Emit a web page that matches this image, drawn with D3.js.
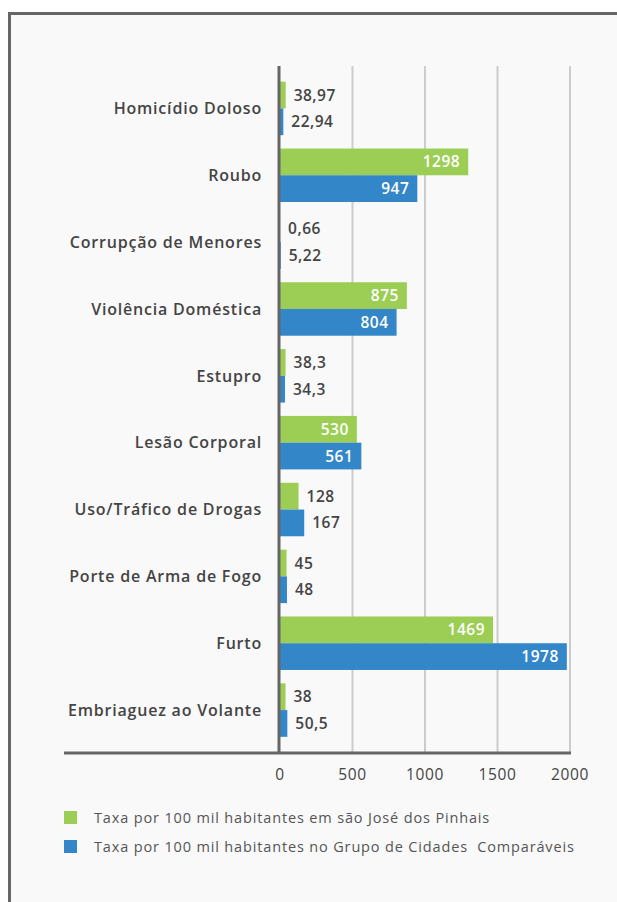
<!DOCTYPE html>
<html>
<head>
<meta charset="utf-8">
<script src="https://d3js.org/d3.v7.min.js"></script>
<style>
  body { margin: 0; background: #ffffff; }
  text { font-family: "Open Sans", "Noto Sans", sans-serif; }
  .cat-label { font-size: 16px; font-weight: 600; fill: #444444; letter-spacing: 0.8px; }
  .val-label { font-size: 15.5px; font-weight: 600; letter-spacing: 0.5px; }
  .tick-label { font-size: 15.5px; fill: #444444; letter-spacing: 0.6px; }
  .legend-label { font-size: 14.5px; fill: #555555; letter-spacing: 0.85px; }
</style>
</head>
<body>
<div id="chart"></div>
<script>
  // data
  const categories = ["Homicídio Doloso", "Roubo", "Corrupção de Menores", "Violência Doméstica",
    "Estupro", "Lesão Corporal", "Uso/Tráfico de Drogas", "Porte de Arma de Fogo", "Furto",
    "Embriaguez ao Volante"];
  const sjpValues = [38.97, 1298, 0.66, 875, 38.3, 530, 128, 45, 1469, 38];
  const groupValues = [22.94, 947, 5.22, 804, 34.3, 561, 167, 48, 1978, 50.5];
  const sjpLabels = ["38,97", "1298", "0,66", "875", "38,3", "530", "128", "45", "1469", "38"];
  const groupLabels = ["22,94", "947", "5,22", "804", "34,3", "561", "167", "48", "1978", "50,5"];
  const xTicks = [0, 500, 1000, 1500, 2000];
  const seriesNames = ["Taxa por 100 mil habitantes em são José dos Pinhais",
    "Taxa por 100 mil habitantes no Grupo de Cidades  Comparáveis"];
  const colors = ["#9ccd55", "#3386c7"];

  const W = 617, H = 902;
  const svg = d3.select("#chart").append("svg")
    .attr("width", W).attr("height", H);

  // panel background + frame
  svg.append("rect").attr("x", 9).attr("y", 13).attr("width", W).attr("height", H)
    .attr("fill", "#f9f9f9");
  svg.append("path")
    .attr("d", `M9.5,${H} V13.5 H${W}`)
    .attr("fill", "none").attr("stroke", "#666666").attr("stroke-width", 3);

  const x = d3.scaleLinear().domain([0, 2000]).range([280, 570]);
  const y = d3.scaleBand().domain(categories).range([75, 743.5])
    .paddingInner(0.2).paddingOuter(0.1);
  const sub = d3.scaleBand().domain([0, 1]).range([0, y.bandwidth()]);

  // grid lines
  svg.append("g").selectAll("line")
    .data(xTicks.slice(1))
    .join("line")
    .attr("x1", d => x(d)).attr("x2", d => x(d))
    .attr("y1", 66).attr("y2", 752)
    .attr("stroke", "#cccccc").attr("stroke-width", 2);

  const rows = categories.map((c, i) => [
    { cat: c, s: 0, v: sjpValues[i], label: sjpLabels[i] },
    { cat: c, s: 1, v: groupValues[i], label: groupLabels[i] }
  ]).flat();

  // bars
  svg.append("g").selectAll("rect")
    .data(rows)
    .join("rect")
    .attr("x", x(0))
    .attr("y", d => y(d.cat) + sub(d.s))
    .attr("width", d => x(d.v) - x(0))
    .attr("height", sub.bandwidth())
    .attr("fill", d => colors[d.s]);

  // value labels
  svg.append("g").selectAll("text")
    .data(rows)
    .join("text")
    .attr("class", "val-label")
    .attr("x", d => d.v > 300 ? x(d.v) - 8 : x(d.v) + 8)
    .attr("y", d => y(d.cat) + sub(d.s) + sub.bandwidth() / 2)
    .attr("dy", "0.36em")
    .attr("text-anchor", d => d.v > 300 ? "end" : "start")
    .attr("fill", d => d.v > 300 ? "#ffffff" : "#444444")
    .text(d => d.label);

  // category labels
  svg.append("g").selectAll("text")
    .data(categories)
    .join("text")
    .attr("class", "cat-label")
    .attr("x", 262)
    .attr("y", d => y(d) + y.bandwidth() / 2)
    .attr("dy", "0.36em")
    .attr("text-anchor", "end")
    .text(d => d);

  // axes lines
  svg.append("line")
    .attr("x1", x(0) - 1).attr("x2", x(0) - 1).attr("y1", 66).attr("y2", 753)
    .attr("stroke", "#666666").attr("stroke-width", 3);
  svg.append("line")
    .attr("x1", 64).attr("x2", 571).attr("y1", 753).attr("y2", 753)
    .attr("stroke", "#666666").attr("stroke-width", 3);

  // tick labels
  svg.append("g").selectAll("text")
    .data(xTicks)
    .join("text")
    .attr("class", "tick-label")
    .attr("x", d => x(d))
    .attr("y", 780)
    .attr("text-anchor", "middle")
    .text(d => d);

  // legend
  const legend = svg.append("g").selectAll("g")
    .data(seriesNames)
    .join("g")
    .attr("transform", (d, i) => `translate(64, ${811 + i * 29})`);
  legend.append("rect")
    .attr("width", 13).attr("height", 13)
    .attr("fill", (d, i) => colors[i]);
  legend.append("text")
    .attr("class", "legend-label")
    .attr("x", 30).attr("y", 7).attr("dy", "0.36em")
    .style("white-space", "pre")
    .text(d => d);
</script>
</body>
</html>
